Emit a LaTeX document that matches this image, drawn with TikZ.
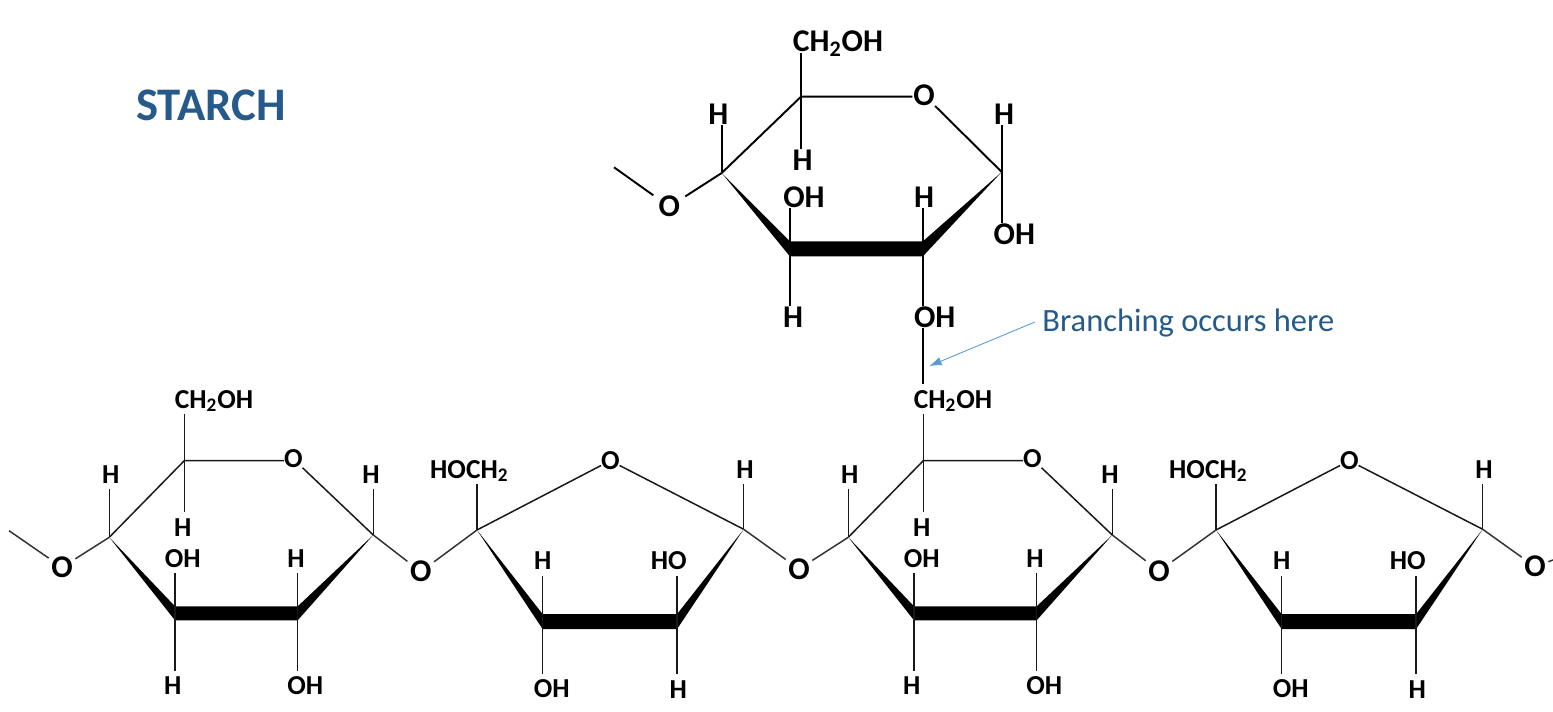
\documentclass[tikz,border=0pt]{standalone}
\usepackage{fontspec}
\setmainfont{Carlito}
\usepackage{tikz}
\usetikzlibrary{calc,arrows.meta}
\tikzset{
	atom/.style={font=\fontsize{15.6}{18}\selectfont\bfseries, inner sep=0pt, outer sep=3.5pt, text height=10pt, text depth=0pt},
	ringatom/.style={atom, outer sep=0pt},
	bigatom/.style={atom, font=\fontsize{18}{21}\selectfont\bfseries, outer sep=0.5pt, text height=11.6pt},
	linkatom/.style={bigatom, outer sep=1.5pt},
	bond/.style={line width=0.85pt, color=black!90},
	bigbond/.style={line width=1.1pt, color=black},
	linkbond/.style={line width=0.85pt, color=black!80},
	pointer/.style={line width=0.5pt, color=pointerblue, -{Latex[length=7pt, width=5pt]}},
}
\definecolor{pointerblue}{HTML}{5B9BD5}
\definecolor{starchblue}{HTML}{255A8A}
% thick front edge of a ring: left vertex, two bar ends, right vertex
\def\frontedge[#1](#2)(#3)(#4)(#5){\fill ($(#2)$) -- ($(#3)+(0,-#1)$) -- ($(#4)+(0,-#1)$) -- ($(#5)$) -- ($(#4)+(0,#1)$) -- ($(#3)+(0,#1)$) -- cycle;}
% six-membered ring of the chain
\def\pyranose[#1](#2){
	\begin{scope}[shift={(#2,0)}]
		\coordinate (#1l) at (109.3, 537.3);
		\coordinate (#1t) at (184.3, 460.7);
		\coordinate (#1r) at (373.3, 535);
		\coordinate (#1q) at (297.7, 613.3);
		\coordinate (#1p) at (175, 613.3);
		\node[ringatom] (#1O) at (293.3, 459) {O};
		\node[atom] (#1CH) at (214, 399.3) {CH\textsubscript{2}OH};
		\node[atom] (#1Ha) at (110.7, 474.3) {H};
		\node[atom] (#1Hb) at (182.7, 527.3) {H};
		\node[atom] (#1OHa) at (182.7, 558.3) {OH};
		\node[atom] (#1Hc) at (296, 558.3) {H};
		\node[atom] (#1Hd) at (172.7, 685.7) {H};
		\node[atom] (#1OHb) at (305.3, 685.7) {OH};
		\node[atom] (#1He) at (371, 474.3) {H};
	\end{scope}
	\draw[bond] (#1l) -- (#1t) -- (#1t -| #1O.west);
	\draw[bond] (#1O) -- (#1r);
	\frontedge[7](#1l)(#1p)(#1q)(#1r)
	\draw[bond] (#1t) -- (#1t |- #1CH.south);
	\draw[bond] (#1l) -- (#1l |- #1Ha.south);
	\draw[bond] (#1t) -- (#1t |- #1Hb.north);
	\draw[bond] (#1p) -- (#1p |- #1OHa.south);
	\draw[bond] (#1q) -- (#1q |- #1Hc.south);
	\draw[bond] (#1p) -- (#1p |- #1Hd.north);
	\draw[bond] (#1q) -- (#1q |- #1OHb.north);
	\draw[bond] (#1r) -- (#1r |- #1He.south);
}
% five-membered ring of the chain
\def\furanose[#1](#2){
	\begin{scope}[shift={(#2,0)}]
		\coordinate (#1l) at (477, 530);
		\coordinate (#1r) at (743.7, 529.3);
		\coordinate (#1q) at (677, 621.7);
		\coordinate (#1p) at (542.7, 621.7);
		\node[ringatom] (#1O) at (610.3, 460.7) {O};
		\node[atom] (#1CH) at (469.3, 469.3) {HOCH\textsubscript{2}};
		\node[atom] (#1Ha) at (542.7, 561) {H};
		\node[atom] (#1HO) at (668.7, 561) {HO};
		\node[atom] (#1OH) at (551.7, 689) {OH};
		\node[atom] (#1Hb) at (678.3, 689.3) {H};
		\node[atom] (#1Hc) at (745, 469.3) {H};
	\end{scope}
	\draw[bond] (#1l) -- (#1O);
	\draw[bond] (#1O) -- (#1r);
	\frontedge[7.5](#1l)(#1p)(#1q)(#1r)
	\draw[bond] (#1l) -- (#1l |- #1CH.south);
	\draw[bond] (#1p) -- (#1p |- #1Ha.south);
	\draw[bond] (#1q) -- (#1q |- #1HO.south);
	\draw[bond] (#1p) -- (#1p |- #1OH.north);
	\draw[bond] (#1q) -- (#1q |- #1Hb.north);
	\draw[bond] (#1r) -- (#1r |- #1Hc.south);
}
\begin{document}
\begin{tikzpicture}[x=0.02cm, y=-0.02cm]
		%%%%% PAGE %%%%%
		\useasboundingbox (0, 0) rectangle (1553, 712);
		
		\node[font=\fontsize{26.6}{31}\selectfont\bfseries, color=starchblue, inner sep=0pt] (title) at (211, 105) {STARCH};
		
		%%%%% CHAIN %%%%%
		\pyranose[a](0)
		\furanose[b](0)
		\pyranose[c](739)
		\furanose[d](739)
		
		\coordinate (free) at (9, 530.7);
		\coordinate (edge) at (1553, 560);
		\node[linkatom] (oa) at (62, 567.3) {O};
		\node[linkatom] (ob) at (420.7, 571.7) {O};
		\node[linkatom] (oc) at (799, 569) {O};
		\node[linkatom] (od) at (1159, 571) {O};
		\node[linkatom] (oe) at (1535, 566.7) {O};
		
		\draw[linkbond] (free) -- (oa);
		\draw[linkbond] (oa) -- (al);
		\draw[linkbond] (ar) -- (ob);
		\draw[linkbond] (ob) -- (bl);
		\draw[linkbond] (br) -- (oc);
		\draw[linkbond] (oc) -- (cl);
		\draw[linkbond] (cr) -- (od);
		\draw[linkbond] (od) -- (dl);
		\draw[linkbond] (dr) -- (oe);
		\draw[linkbond] (oe) -- (edge);
		
		%%%%% BRANCH %%%%%
		\coordinate (tl) at (721.7, 173);
		\coordinate (tt) at (801, 96.7);
		\coordinate (tr) at (1001.7, 172);
		\coordinate (tq) at (922.7, 249);
		\coordinate (tp) at (790, 249);
		\coordinate (tfree) at (614, 167.3);
		
		\node[bigatom] (tO) at (924, 95) {O};
		\node[bigatom] (tCH) at (838, 41.7) {CH\textsubscript{2}OH};
		\node[bigatom] (tHa) at (718.3, 114) {H};
		\node[bigatom] (tHb) at (802.7, 160) {H};
		\node[bigatom] (tOHa) at (804, 197) {OH};
		\node[bigatom] (tHc) at (924, 197) {H};
		\node[bigatom] (tHd) at (793, 317) {H};
		\node[bigatom] (tOHb) at (934.7, 317.3) {OH};
		\node[bigatom] (tHe) at (1004, 114) {H};
		\node[bigatom] (tOHc) at (1014.3, 234) {OH};
		\node[bigatom, outer sep=3pt] (to) at (669.3, 206.7) {O};
		
		\draw[bigbond] (tl) -- (tt) -- (tt -| tO.west);
		\draw[bigbond] (tO) -- (tr);
		\frontedge[7.5](tl)(tp)(tq)(tr)
		\draw[bigbond] (tfree) -- (to);
		\draw[bigbond] (to) -- (tl);
		\draw[bigbond] (tt) -- (tt |- tCH.south);
		\draw[bigbond] (tl) -- (tl |- tHa.south);
		\draw[bigbond] (tt) -- (tt |- tHb.north);
		\draw[bigbond] (tp) -- (tp |- tOHa.south);
		\draw[bigbond] (tq) -- (tq |- tHc.south);
		\draw[bigbond] (tp) -- (tp |- tHd.north);
		\draw[bigbond] (tq) -- (tq |- tOHb.north);
		\draw[bigbond] (tr) -- (tr |- tHe.south);
		\draw[bigbond] (tr) -- (tr |- tOHc.north);
		
		\draw[bigbond] (tq |- tOHb.south) -- (tq |- cCH.north);
		
		\node[font=\fontsize{18.5}{22}\selectfont, color=starchblue, inner sep=0pt, anchor=west] (note) at (1042, 323) {Branching occurs here};
		\coordinate (notetip) at (929.3, 366);
		\draw[pointer] (note.west) ++(-7, -1) -- (notetip);
	\end{tikzpicture}
\end{document}
